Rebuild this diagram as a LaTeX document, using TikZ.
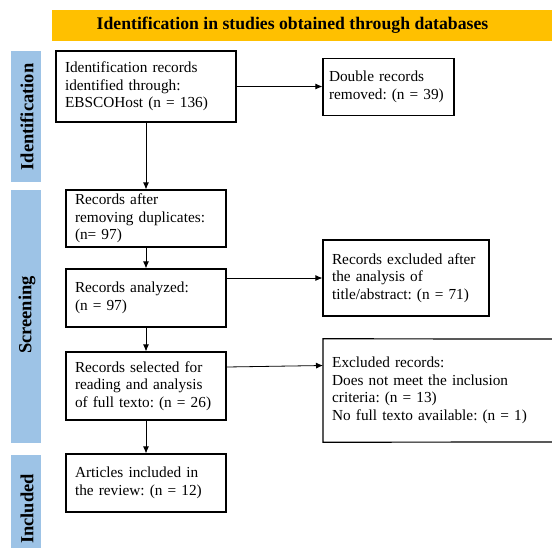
\documentclass[tikz,border=0pt]{standalone}
\usepackage{fontspec}
\setmainfont{Liberation Serif}
\usetikzlibrary{arrows.meta}
\definecolor{gold}{HTML}{FFC000}
\definecolor{sideblue}{HTML}{9DC3E6}
\frenchspacing
\begin{document}
\begin{tikzpicture}[x=1pt,y=-1pt,
  box/.style={draw, line width=1.2pt, align=left, inner xsep=9pt, inner ysep=0pt,
    font=\fontsize{15.3}{17.6}\selectfont},
  openbox/.style={align=left, inner xsep=9pt, inner ysep=0pt,
    font=\fontsize{15.3}{17.6}\selectfont},
  sidebar/.style={fill=sideblue, draw=none, inner sep=0pt, minimum width=30pt},
  sidelabel/.style={rotate=90, font=\bfseries\fontsize{18.5}{20}\selectfont, inner sep=0pt},
  arr/.style={line width=0.8pt, -{Latex[length=7pt,width=6pt]}}
]
\useasboundingbox (0,0) rectangle (552,547);
\fill[white] (0,0) rectangle (552,547);

% banner
\node[fill=gold, inner sep=0pt, minimum width=500pt, minimum height=31pt] (banner) at (302,25.5) {};
\node[font=\bfseries\fontsize{17.7}{20}\selectfont, inner sep=0pt] (bannertext) at (292.5,25.5)
  {Identification in studies obtained through databases};

% side bars
\node[sidebar, minimum height=131pt] (barid) at (25.5,116.5) {};
\node[sidebar, minimum height=253pt] (barsc) at (25.5,316.5) {};
\node[sidebar, minimum height=95pt] (barin) at (25.5,502.5) {};
\node[sidelabel] (labid) at (27,117) {Identification};
\node[sidelabel] (labsc) at (27,315) {Screening};
\node[sidelabel] (labin) at (27,509) {Included};

% main boxes
\node[box, text width=162pt, minimum height=71pt] (b1) at (146,86.5)
  {Identification records\\identified through:\\EBSCOHost (n = 136)};
\node[box, inner xsep=6pt, text width=119pt, minimum height=57pt] (dbl) at (388.5,87)
  {Double records\\removed: (n = 39)};
\node[box, text width=142pt, minimum height=57pt] (b2) at (146,218.5)
  {Records after\\removing duplicates:\\(n= 97)};
\node[box, text width=142pt, minimum height=58pt] (b3) at (146,298)
  {Records analyzed:\\(n = 97)};
\node[box, text width=148pt, minimum height=76pt] (ex1) at (406,278)
  {Records excluded after\\the analysis of\\title/abstract: (n = 71)};
\node[box, text width=142pt, minimum height=68pt] (b4) at (146,386)
  {Records selected for\\reading and analysis\\of full texto: (n = 26)};
\node[openbox, text width=200pt, minimum height=103pt, anchor=west] (ex2) at (323,390.5)
  {Excluded records:\\Does not meet the inclusion\\criteria: (n = 13)\\No full texto available: (n = 1)};
\coordinate (ex2ne) at (560,339);
\coordinate (ex2se) at (560,442);
\begin{scope}
\clip (0,0) rectangle (552,547);
\draw[line width=1.2pt] (ex2ne) -- (ex2.north west) -- (ex2.south west) -- (ex2se);
\end{scope}
\node[box, text width=142pt, minimum height=58pt] (b5) at (146,483)
  {Articles included in\\the review: (n = 12)};

% connectors
\draw[arr] (b1.east) -- (b1.east -| dbl.west);
\draw[arr] (b1.south) -- (b2.north);
\draw[arr] (b2.south) -- (b3.north);
\draw[arr] (b3.south) -- (b4.north);
\draw[arr] (b4.south) -- (b5.north);
\draw[arr] (ex1.west -| b3.east) -- (ex1.west);
\draw[arr] ([yshift=19pt]b4.east) -- ([yshift=25pt]ex2.west);
\end{tikzpicture}
\end{document}
